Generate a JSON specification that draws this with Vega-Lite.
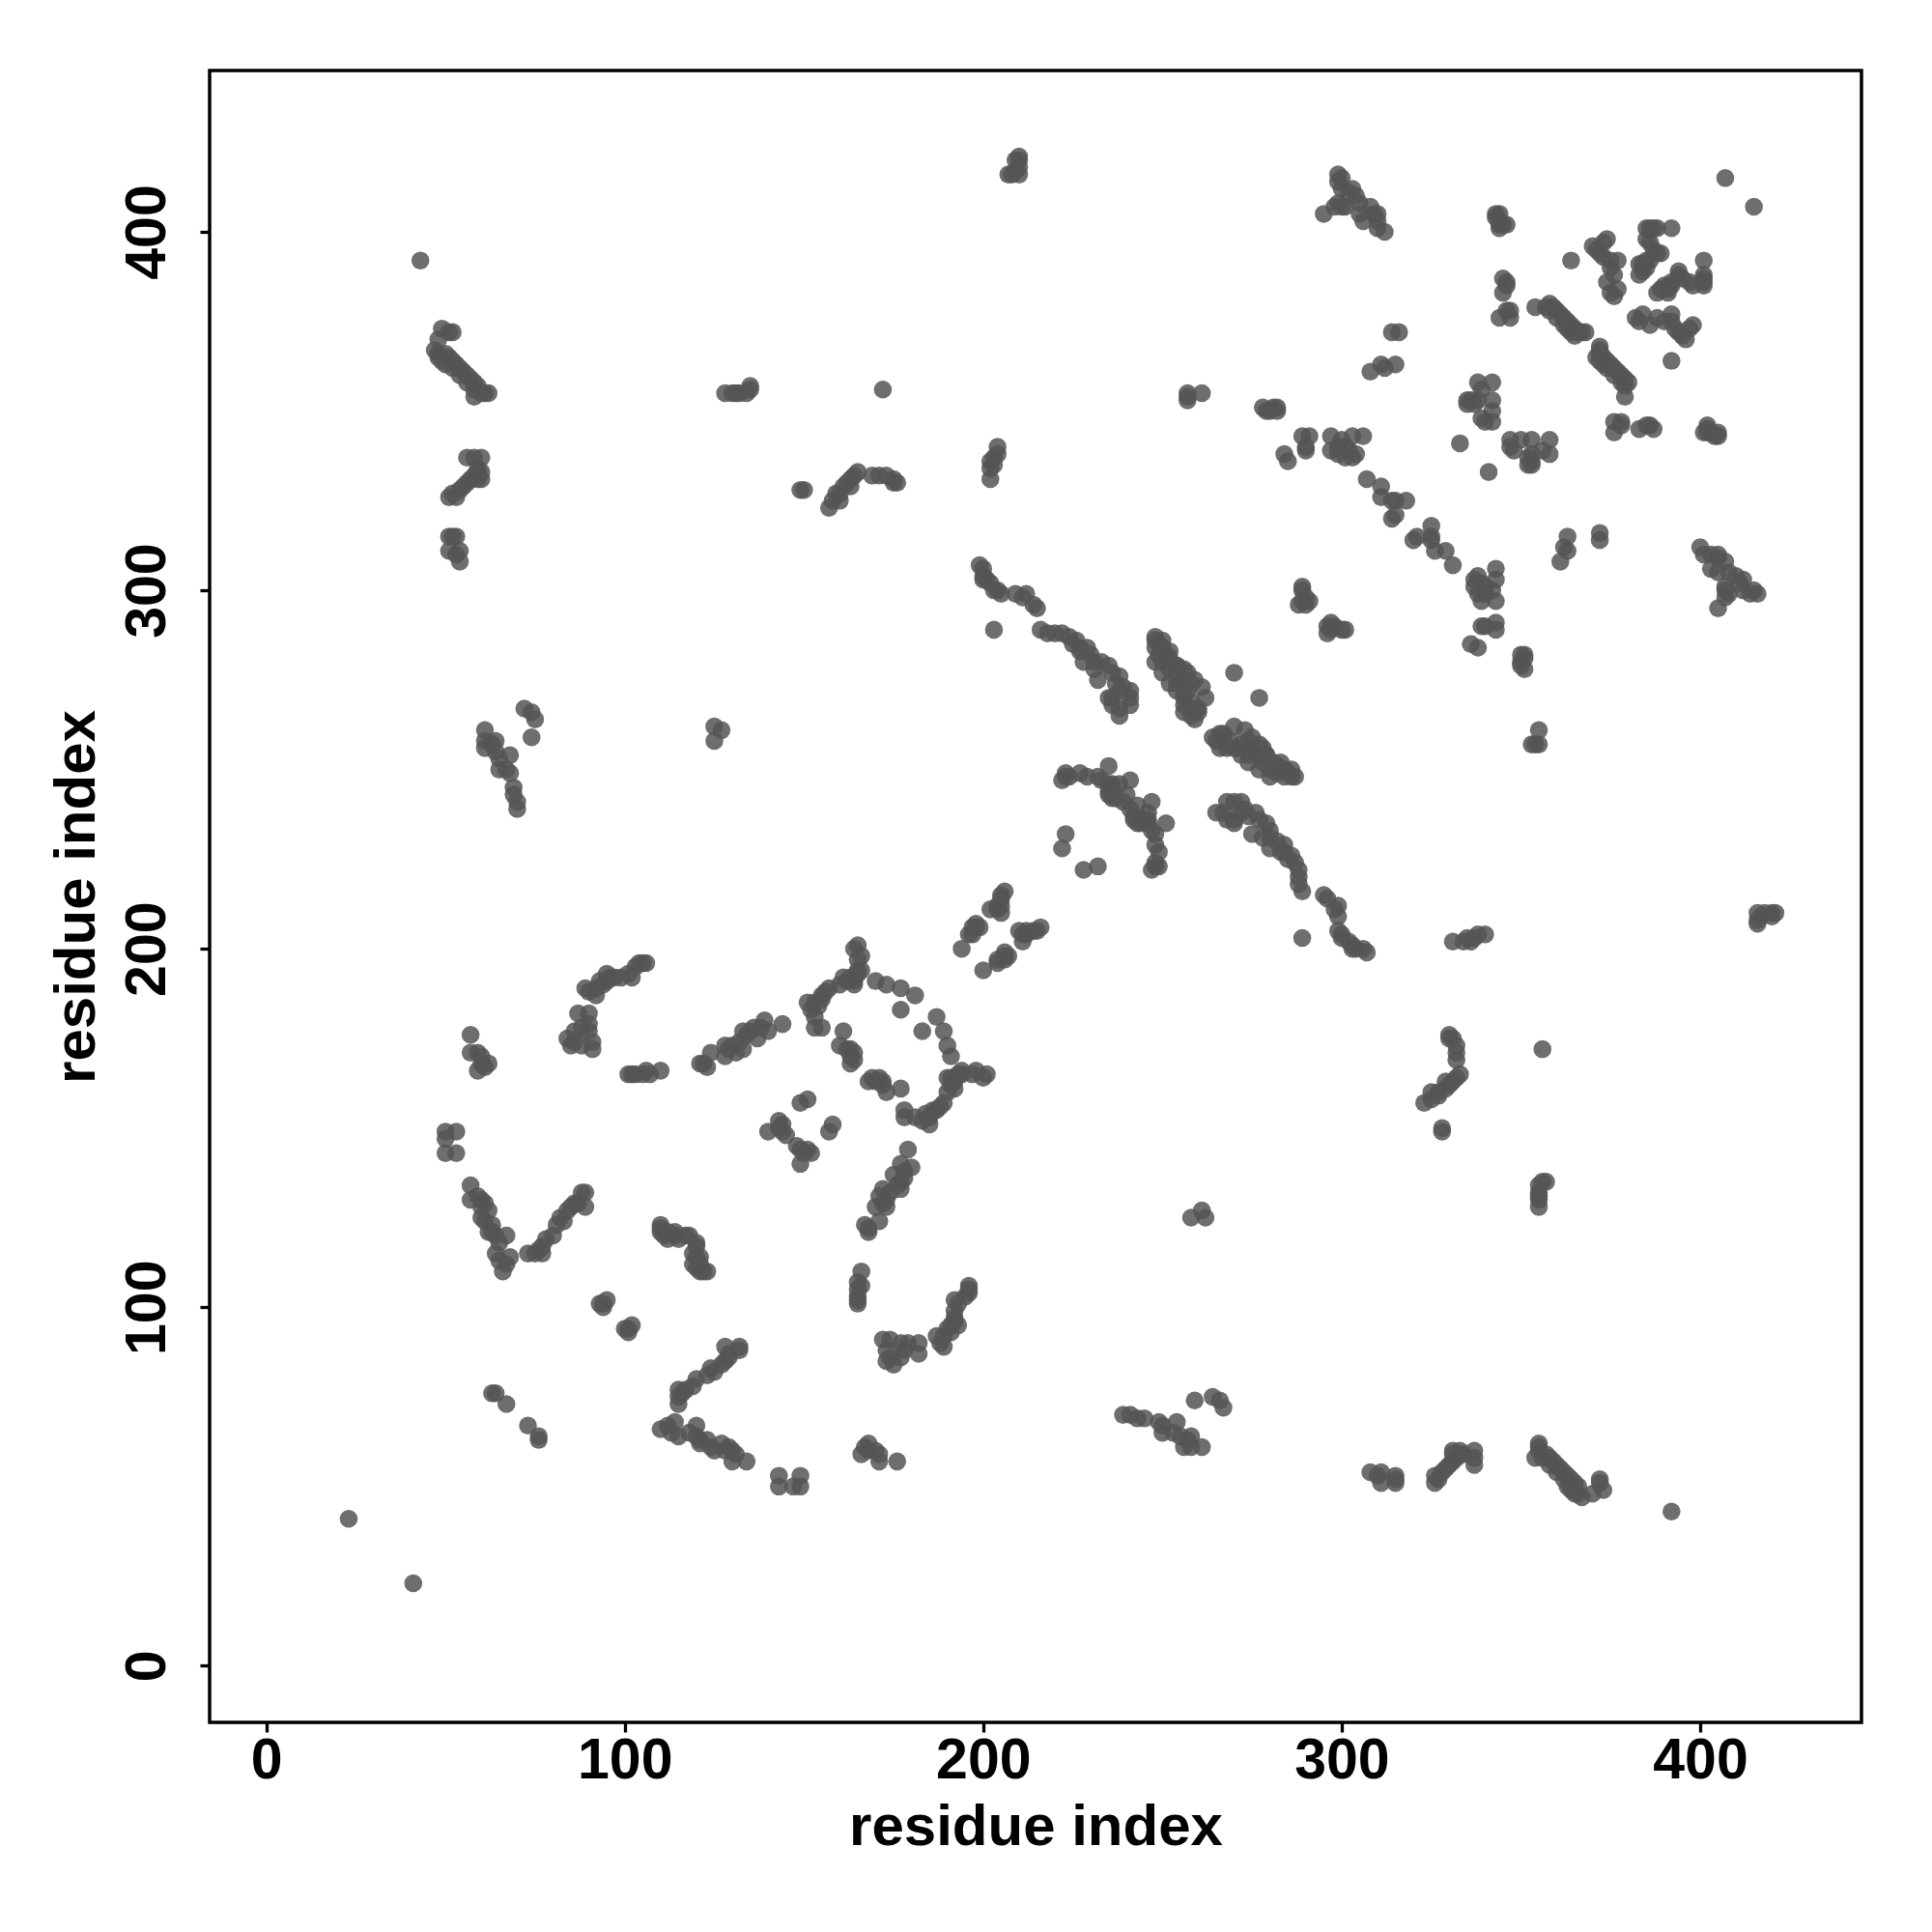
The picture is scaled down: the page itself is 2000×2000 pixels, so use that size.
{"$schema":"https://vega.github.io/schema/vega-lite/v6.json","width":1710,"height":1710,"autosize":{"type":"none"},"padding":{"left":217,"top":73,"right":73,"bottom":217},"background":"white","config":{"view":{"stroke":"black","strokeWidth":3.5},"font":"Liberation Sans"},"data":{"values":[
{"x":23,"y":41},{"x":43,"y":392},{"x":407,"y":415},
{"x":47,"y":367},{"x":48,"y":366},{"x":48,"y":365},{"x":49,"y":364},{"x":50,"y":366},{"x":50,"y":363},{"x":51,"y":365},{"x":52,"y":364},{"x":52,"y":362},{"x":53,"y":363},{"x":54,"y":362},{"x":54,"y":360},{"x":55,"y":361},{"x":56,"y":360},{"x":56,"y":358},{"x":57,"y":359},{"x":58,"y":358},{"x":58,"y":356},{"x":59,"y":357},{"x":60,"y":355},{"x":61,"y":355},{"x":58,"y":354},{"x":62,"y":355},{"x":48,"y":370},{"x":49,"y":373},{"x":51,"y":372},{"x":52,"y":372},
{"x":51,"y":326},{"x":52,"y":327},{"x":53,"y":326},{"x":54,"y":328},{"x":55,"y":329},{"x":56,"y":330},{"x":57,"y":331},{"x":58,"y":332},{"x":59,"y":333},{"x":59,"y":331},{"x":60,"y":333},{"x":60,"y":331},{"x":56,"y":337},{"x":58,"y":337},{"x":60,"y":337},{"x":59,"y":334},
{"x":51,"y":315},{"x":52,"y":315},{"x":53,"y":315},{"x":51,"y":311},{"x":53,"y":310},{"x":54,"y":308},{"x":54,"y":311},
{"x":61,"y":261},{"x":61,"y":258},{"x":61,"y":256},{"x":63,"y":257},{"x":64,"y":258},{"x":64,"y":255},{"x":65,"y":253},{"x":65,"y":250},{"x":67,"y":250},{"x":68,"y":254},{"x":68,"y":249},{"x":69,"y":245},{"x":69,"y":243},{"x":70,"y":241},{"x":70,"y":239},{"x":72,"y":267},{"x":74,"y":266},{"x":75,"y":264},{"x":74,"y":259},
{"x":125,"y":262},{"x":127,"y":261},{"x":125,"y":258},
{"x":128,"y":355},{"x":130,"y":355},{"x":131,"y":355},{"x":132,"y":355},{"x":134,"y":355},{"x":135,"y":356},{"x":135,"y":357},{"x":172,"y":356},
{"x":149,"y":328},{"x":150,"y":328},{"x":157,"y":323},{"x":158,"y":325},{"x":159,"y":327},{"x":160,"y":327},{"x":161,"y":329},{"x":162,"y":330},{"x":163,"y":331},{"x":164,"y":332},{"x":165,"y":333},{"x":163,"y":329},{"x":160,"y":325},{"x":169,"y":332},{"x":171,"y":332},{"x":173,"y":332},{"x":175,"y":331},{"x":176,"y":330},{"x":175,"y":330},
{"x":202,"y":334},{"x":202,"y":336},{"x":203,"y":337},{"x":204,"y":338},{"x":204,"y":340},{"x":202,"y":331},{"x":203,"y":335},
{"x":207,"y":416},{"x":208,"y":416},{"x":209,"y":417},{"x":210,"y":416},{"x":210,"y":418},{"x":210,"y":420},{"x":209,"y":420},{"x":210,"y":421},
{"x":257,"y":355},{"x":257,"y":353},{"x":257,"y":354},{"x":261,"y":355},
{"x":278,"y":351},{"x":279,"y":350},{"x":280,"y":350},{"x":281,"y":351},{"x":282,"y":350},{"x":282,"y":351},
{"x":295,"y":405},{"x":298,"y":407},{"x":299,"y":408},{"x":300,"y":407},{"x":299,"y":414},{"x":299,"y":416},{"x":300,"y":415},{"x":300,"y":412},{"x":302,"y":411},{"x":303,"y":412},{"x":304,"y":410},{"x":305,"y":408},{"x":305,"y":405},{"x":306,"y":403},{"x":308,"y":407},{"x":309,"y":405},{"x":310,"y":403},{"x":310,"y":401},{"x":310,"y":405},{"x":312,"y":400},{"x":301,"y":407},
{"x":344,"y":405},{"x":344,"y":403},{"x":345,"y":402},{"x":346,"y":402},{"x":345,"y":387},{"x":346,"y":385},{"x":345,"y":383},{"x":346,"y":378},{"x":344,"y":376},{"x":347,"y":376},{"x":347,"y":378},{"x":346,"y":386},{"x":344,"y":401},{"x":344,"y":402},{"x":343,"y":404},{"x":343,"y":405},
{"x":364,"y":392},{"x":370,"y":396},{"x":371,"y":395},{"x":372,"y":394},{"x":373,"y":397},{"x":374,"y":398},{"x":373,"y":393},{"x":375,"y":392},{"x":375,"y":390},{"x":376,"y":388},{"x":374,"y":386},{"x":375,"y":383},{"x":376,"y":382},{"x":377,"y":384},{"x":377,"y":392},
{"x":385,"y":401},{"x":386,"y":401},{"x":387,"y":401},{"x":388,"y":401},{"x":385,"y":398},{"x":386,"y":397},{"x":387,"y":395},{"x":386,"y":392},{"x":385,"y":392},{"x":384,"y":391},{"x":383,"y":391},{"x":388,"y":394},{"x":389,"y":394},{"x":392,"y":401},{"x":383,"y":388},{"x":384,"y":389},{"x":385,"y":390},
{"x":354,"y":379},{"x":357,"y":379},{"x":358,"y":380},{"x":359,"y":379},{"x":360,"y":378},{"x":361,"y":377},{"x":362,"y":376},{"x":363,"y":375},{"x":364,"y":374},{"x":365,"y":373},{"x":366,"y":372},{"x":367,"y":372},{"x":368,"y":372},{"x":365,"y":371},{"x":364,"y":372},{"x":363,"y":373},{"x":362,"y":374},{"x":360,"y":376},{"x":358,"y":378},
{"x":284,"y":338},{"x":285,"y":336},{"x":289,"y":343},{"x":290,"y":340},{"x":291,"y":343},{"x":290,"y":339},{"x":297,"y":343},{"x":300,"y":342},{"x":303,"y":343},{"x":306,"y":343},{"x":297,"y":339},{"x":299,"y":340},{"x":299,"y":338},{"x":301,"y":340},{"x":302,"y":339},{"x":303,"y":337},{"x":304,"y":338},{"x":301,"y":337},
{"x":307,"y":331},{"x":311,"y":329},{"x":311,"y":326},{"x":314,"y":325},{"x":315,"y":325},{"x":318,"y":325},{"x":314,"y":320},{"x":315,"y":321},
{"x":333,"y":341},{"x":335,"y":353},{"x":336,"y":353},{"x":337,"y":352},{"x":338,"y":358},{"x":339,"y":356},{"x":342,"y":358},{"x":342,"y":353},{"x":342,"y":350},{"x":339,"y":348},{"x":340,"y":347},{"x":342,"y":347},{"x":338,"y":353},{"x":335,"y":352},
{"x":314,"y":372},{"x":316,"y":372},{"x":308,"y":361},{"x":311,"y":363},{"x":312,"y":362},{"x":315,"y":363},
{"x":289,"y":300},{"x":288,"y":296},{"x":289,"y":297},{"x":290,"y":296},{"x":291,"y":297},{"x":289,"y":301},{"x":290,"y":298},
{"x":200,"y":306},{"x":200,"y":304},{"x":201,"y":303},{"x":202,"y":302},{"x":204,"y":300},{"x":205,"y":299},{"x":203,"y":289},{"x":209,"y":299},{"x":211,"y":298},{"x":212,"y":299},{"x":214,"y":296},{"x":215,"y":295},{"x":216,"y":289},{"x":218,"y":288},{"x":220,"y":288},{"x":222,"y":288},{"x":224,"y":287},{"x":226,"y":286},{"x":227,"y":284},{"x":229,"y":284},{"x":230,"y":282},{"x":231,"y":280},{"x":233,"y":280},{"x":235,"y":279},{"x":236,"y":277},{"x":238,"y":276},{"x":239,"y":273},{"x":241,"y":272},{"x":241,"y":270},{"x":241,"y":268},{"x":236,"y":270},
{"x":199,"y":307},{"x":200,"y":303},{"x":203,"y":300},{"x":238,"y":265},{"x":238,"y":267},{"x":236,"y":268},{"x":235,"y":270},{"x":238,"y":272},{"x":237,"y":274},{"x":225,"y":285},{"x":227,"y":283},{"x":228,"y":280},{"x":231,"y":278},{"x":232,"y":275},
{"x":248,"y":284},{"x":249,"y":282},{"x":250,"y":284},{"x":252,"y":281},{"x":254,"y":279},{"x":256,"y":278},{"x":257,"y":277},{"x":258,"y":274},{"x":248,"y":280},{"x":250,"y":277},{"x":252,"y":274},{"x":254,"y":272},{"x":256,"y":270},{"x":258,"y":269},{"x":260,"y":267},{"x":261,"y":273},{"x":262,"y":270},{"x":256,"y":266},{"x":260,"y":266},{"x":259,"y":264},{"x":270,"y":277},{"x":258,"y":265},{"x":259,"y":267},{"x":256,"y":268},{"x":257,"y":272},{"x":255,"y":274},{"x":259,"y":275},{"x":256,"y":275},{"x":254,"y":277},{"x":252,"y":278},{"x":254,"y":279},{"x":250,"y":280},{"x":251,"y":282},{"x":252,"y":283},{"x":250,"y":284},{"x":249,"y":285},{"x":248,"y":286},{"x":248,"y":287},{"x":250,"y":286},{"x":254,"y":274},{"x":256,"y":271},
{"x":222,"y":247},{"x":223,"y":248},{"x":224,"y":248},{"x":229,"y":248},{"x":232,"y":248},{"x":233,"y":247},{"x":235,"y":246},{"x":235,"y":251},{"x":235,"y":243},{"x":236,"y":245},{"x":237,"y":242},{"x":238,"y":246},{"x":239,"y":241},{"x":240,"y":243},{"x":241,"y":247},{"x":236,"y":242},{"x":235,"y":244},{"x":236,"y":246},{"x":223,"y":232},{"x":222,"y":228},{"x":223,"y":249},{"x":227,"y":249},
{"x":50,"y":149},{"x":53,"y":149},{"x":50,"y":143},{"x":53,"y":143},{"x":50,"y":147},
{"x":57,"y":134},{"x":57,"y":130},{"x":59,"y":131},{"x":60,"y":130},{"x":61,"y":129},{"x":60,"y":128},{"x":60,"y":125},{"x":61,"y":124},{"x":62,"y":127},{"x":63,"y":123},{"x":63,"y":121},{"x":64,"y":120},{"x":65,"y":118},{"x":67,"y":120},{"x":62,"y":121},{"x":64,"y":115},{"x":65,"y":113},{"x":66,"y":110},{"x":67,"y":112},{"x":68,"y":114},
{"x":73,"y":115},{"x":75,"y":115},{"x":76,"y":116},{"x":77,"y":115},{"x":77,"y":117},{"x":78,"y":119},{"x":80,"y":120},{"x":81,"y":123},{"x":82,"y":125},{"x":83,"y":124},{"x":84,"y":127},{"x":85,"y":128},{"x":86,"y":129},{"x":88,"y":132},{"x":87,"y":129},{"x":89,"y":132},{"x":89,"y":128},
{"x":57,"y":176},{"x":57,"y":171},{"x":59,"y":171},{"x":60,"y":170},{"x":60,"y":168},{"x":61,"y":167},{"x":62,"y":168},{"x":59,"y":166},
{"x":84,"y":175},{"x":85,"y":173},{"x":86,"y":174},{"x":86,"y":177},{"x":87,"y":182},{"x":88,"y":178},{"x":88,"y":173},{"x":90,"y":182},{"x":90,"y":177},{"x":91,"y":174},{"x":91,"y":172},{"x":90,"y":179},
{"x":89,"y":189},{"x":90,"y":188},{"x":92,"y":189},{"x":92,"y":187},{"x":93,"y":191},{"x":94,"y":190},{"x":95,"y":193},{"x":96,"y":192},{"x":95,"y":191},{"x":97,"y":192},{"x":99,"y":192},{"x":101,"y":193},{"x":102,"y":192},{"x":103,"y":195},{"x":104,"y":196},{"x":105,"y":196},{"x":106,"y":196},
{"x":101,"y":165},{"x":102,"y":165},{"x":103,"y":165},{"x":105,"y":165},{"x":106,"y":166},{"x":107,"y":165},{"x":110,"y":166},
{"x":121,"y":168},{"x":122,"y":168},{"x":123,"y":167},{"x":124,"y":171},{"x":128,"y":173},{"x":128,"y":170},{"x":130,"y":173},{"x":131,"y":171},{"x":132,"y":174},{"x":133,"y":172},{"x":133,"y":177},{"x":134,"y":176},{"x":135,"y":177},{"x":136,"y":178},{"x":137,"y":175},{"x":138,"y":178},{"x":139,"y":180},{"x":140,"y":177},{"x":144,"y":179},{"x":129,"y":172},
{"x":151,"y":185},{"x":152,"y":183},{"x":153,"y":181},{"x":153,"y":185},{"x":154,"y":184},{"x":155,"y":187},{"x":155,"y":186},{"x":153,"y":178},{"x":155,"y":178},{"x":156,"y":188},{"x":157,"y":189},{"x":160,"y":190},{"x":161,"y":192},{"x":162,"y":191},{"x":163,"y":192},{"x":164,"y":191},{"x":164,"y":190},{"x":165,"y":193},{"x":165,"y":194},{"x":166,"y":194},{"x":165,"y":197},{"x":164,"y":200},{"x":165,"y":201},{"x":166,"y":198},
{"x":170,"y":191},{"x":173,"y":190},{"x":177,"y":189},{"x":181,"y":187},{"x":177,"y":183},{"x":161,"y":177},{"x":162,"y":172},{"x":163,"y":172},{"x":164,"y":171},{"x":164,"y":169},{"x":163,"y":168},{"x":163,"y":170},{"x":160,"y":173},
{"x":140,"y":149},{"x":143,"y":150},{"x":144,"y":151},{"x":144,"y":149},{"x":145,"y":148},{"x":143,"y":152},{"x":149,"y":157},{"x":151,"y":158},
{"x":110,"y":122},{"x":111,"y":120},{"x":112,"y":119},{"x":114,"y":120},{"x":115,"y":119},{"x":117,"y":120},{"x":118,"y":120},{"x":110,"y":121},{"x":114,"y":121},{"x":112,"y":121},{"x":110,"y":123},
{"x":93,"y":101},{"x":94,"y":101},{"x":95,"y":102},{"x":94,"y":100},{"x":63,"y":76},{"x":64,"y":76},{"x":67,"y":73},
{"x":194,"y":200},{"x":196,"y":204},{"x":197,"y":206},{"x":198,"y":207},{"x":199,"y":206},{"x":197,"y":204},{"x":198,"y":206},{"x":205,"y":212},{"x":205,"y":214},{"x":204,"y":211},{"x":206,"y":216},{"x":205,"y":210},{"x":202,"y":211},{"x":205,"y":215},{"x":204,"y":212},
{"y":23,"x":41},{"y":43,"x":392},{"y":407,"x":415},
{"y":47,"x":367},{"y":48,"x":366},{"y":48,"x":365},{"y":49,"x":364},{"y":50,"x":366},{"y":50,"x":363},{"y":51,"x":365},{"y":52,"x":364},{"y":52,"x":362},{"y":53,"x":363},{"y":54,"x":362},{"y":54,"x":360},{"y":55,"x":361},{"y":56,"x":360},{"y":56,"x":358},{"y":57,"x":359},{"y":58,"x":358},{"y":58,"x":356},{"y":59,"x":357},{"y":60,"x":355},{"y":61,"x":355},{"y":58,"x":354},{"y":62,"x":355},{"y":48,"x":370},{"y":49,"x":373},{"y":51,"x":372},{"y":52,"x":372},
{"y":51,"x":326},{"y":52,"x":327},{"y":53,"x":326},{"y":54,"x":328},{"y":55,"x":329},{"y":56,"x":330},{"y":57,"x":331},{"y":58,"x":332},{"y":59,"x":333},{"y":59,"x":331},{"y":60,"x":333},{"y":60,"x":331},{"y":56,"x":337},{"y":58,"x":337},{"y":60,"x":337},{"y":59,"x":334},
{"y":51,"x":315},{"y":52,"x":315},{"y":53,"x":315},{"y":51,"x":311},{"y":53,"x":310},{"y":54,"x":308},{"y":54,"x":311},
{"y":61,"x":261},{"y":61,"x":258},{"y":61,"x":256},{"y":63,"x":257},{"y":64,"x":258},{"y":64,"x":255},{"y":65,"x":253},{"y":65,"x":250},{"y":67,"x":250},{"y":68,"x":254},{"y":68,"x":249},{"y":69,"x":245},{"y":69,"x":243},{"y":70,"x":241},{"y":70,"x":239},{"y":72,"x":267},{"y":74,"x":266},{"y":75,"x":264},{"y":74,"x":259},
{"y":125,"x":262},{"y":127,"x":261},{"y":125,"x":258},
{"y":128,"x":355},{"y":130,"x":355},{"y":131,"x":355},{"y":132,"x":355},{"y":134,"x":355},{"y":135,"x":356},{"y":135,"x":357},{"y":172,"x":356},
{"y":149,"x":328},{"y":150,"x":328},{"y":157,"x":323},{"y":158,"x":325},{"y":159,"x":327},{"y":160,"x":327},{"y":161,"x":329},{"y":162,"x":330},{"y":163,"x":331},{"y":164,"x":332},{"y":165,"x":333},{"y":163,"x":329},{"y":160,"x":325},{"y":169,"x":332},{"y":171,"x":332},{"y":173,"x":332},{"y":175,"x":331},{"y":176,"x":330},{"y":175,"x":330},
{"y":202,"x":334},{"y":202,"x":336},{"y":203,"x":337},{"y":204,"x":338},{"y":204,"x":340},{"y":202,"x":331},{"y":203,"x":335},
{"y":207,"x":416},{"y":208,"x":416},{"y":209,"x":417},{"y":210,"x":416},{"y":210,"x":418},{"y":210,"x":420},{"y":209,"x":420},{"y":210,"x":421},
{"y":257,"x":355},{"y":257,"x":353},{"y":257,"x":354},{"y":261,"x":355},
{"y":278,"x":351},{"y":279,"x":350},{"y":280,"x":350},{"y":281,"x":351},{"y":282,"x":350},{"y":282,"x":351},
{"y":295,"x":405},{"y":298,"x":407},{"y":299,"x":408},{"y":300,"x":407},{"y":299,"x":414},{"y":299,"x":416},{"y":300,"x":415},{"y":300,"x":412},{"y":302,"x":411},{"y":303,"x":412},{"y":304,"x":410},{"y":305,"x":408},{"y":305,"x":405},{"y":306,"x":403},{"y":308,"x":407},{"y":309,"x":405},{"y":310,"x":403},{"y":310,"x":401},{"y":310,"x":405},{"y":312,"x":400},{"y":301,"x":407},
{"y":344,"x":405},{"y":344,"x":403},{"y":345,"x":402},{"y":346,"x":402},{"y":345,"x":387},{"y":346,"x":385},{"y":345,"x":383},{"y":346,"x":378},{"y":344,"x":376},{"y":347,"x":376},{"y":347,"x":378},{"y":346,"x":386},{"y":344,"x":401},{"y":344,"x":402},{"y":343,"x":404},{"y":343,"x":405},
{"y":364,"x":392},{"y":370,"x":396},{"y":371,"x":395},{"y":372,"x":394},{"y":373,"x":397},{"y":374,"x":398},{"y":373,"x":393},{"y":375,"x":392},{"y":375,"x":390},{"y":376,"x":388},{"y":374,"x":386},{"y":375,"x":383},{"y":376,"x":382},{"y":377,"x":384},{"y":377,"x":392},
{"y":385,"x":401},{"y":386,"x":401},{"y":387,"x":401},{"y":388,"x":401},{"y":385,"x":398},{"y":386,"x":397},{"y":387,"x":395},{"y":386,"x":392},{"y":385,"x":392},{"y":384,"x":391},{"y":383,"x":391},{"y":388,"x":394},{"y":389,"x":394},{"y":392,"x":401},{"y":383,"x":388},{"y":384,"x":389},{"y":385,"x":390},
{"y":354,"x":379},{"y":357,"x":379},{"y":358,"x":380},{"y":359,"x":379},{"y":360,"x":378},{"y":361,"x":377},{"y":362,"x":376},{"y":363,"x":375},{"y":364,"x":374},{"y":365,"x":373},{"y":366,"x":372},{"y":367,"x":372},{"y":368,"x":372},{"y":365,"x":371},{"y":364,"x":372},{"y":363,"x":373},{"y":362,"x":374},{"y":360,"x":376},{"y":358,"x":378},
{"y":284,"x":338},{"y":285,"x":336},{"y":289,"x":343},{"y":290,"x":340},{"y":291,"x":343},{"y":290,"x":339},{"y":297,"x":343},{"y":300,"x":342},{"y":303,"x":343},{"y":306,"x":343},{"y":297,"x":339},{"y":299,"x":340},{"y":299,"x":338},{"y":301,"x":340},{"y":302,"x":339},{"y":303,"x":337},{"y":304,"x":338},{"y":301,"x":337},
{"y":307,"x":331},{"y":311,"x":329},{"y":311,"x":326},{"y":314,"x":325},{"y":315,"x":325},{"y":318,"x":325},{"y":314,"x":320},{"y":315,"x":321},
{"y":333,"x":341},{"y":335,"x":353},{"y":336,"x":353},{"y":337,"x":352},{"y":338,"x":358},{"y":339,"x":356},{"y":342,"x":358},{"y":342,"x":353},{"y":342,"x":350},{"y":339,"x":348},{"y":340,"x":347},{"y":342,"x":347},{"y":338,"x":353},{"y":335,"x":352},
{"y":314,"x":372},{"y":316,"x":372},{"y":308,"x":361},{"y":311,"x":363},{"y":312,"x":362},{"y":315,"x":363},
{"y":289,"x":300},{"y":288,"x":296},{"y":289,"x":297},{"y":290,"x":296},{"y":291,"x":297},{"y":289,"x":301},{"y":290,"x":298},
{"y":200,"x":306},{"y":200,"x":304},{"y":201,"x":303},{"y":202,"x":302},{"y":204,"x":300},{"y":205,"x":299},{"y":203,"x":289},{"y":209,"x":299},{"y":211,"x":298},{"y":212,"x":299},{"y":214,"x":296},{"y":215,"x":295},{"y":216,"x":289},{"y":218,"x":288},{"y":220,"x":288},{"y":222,"x":288},{"y":224,"x":287},{"y":226,"x":286},{"y":227,"x":284},{"y":229,"x":284},{"y":230,"x":282},{"y":231,"x":280},{"y":233,"x":280},{"y":235,"x":279},{"y":236,"x":277},{"y":238,"x":276},{"y":239,"x":273},{"y":241,"x":272},{"y":241,"x":270},{"y":241,"x":268},{"y":236,"x":270},
{"y":199,"x":307},{"y":200,"x":303},{"y":203,"x":300},{"y":238,"x":265},{"y":238,"x":267},{"y":236,"x":268},{"y":235,"x":270},{"y":238,"x":272},{"y":237,"x":274},{"y":225,"x":285},{"y":227,"x":283},{"y":228,"x":280},{"y":231,"x":278},{"y":232,"x":275},
{"y":248,"x":284},{"y":249,"x":282},{"y":250,"x":284},{"y":252,"x":281},{"y":254,"x":279},{"y":256,"x":278},{"y":257,"x":277},{"y":258,"x":274},{"y":248,"x":280},{"y":250,"x":277},{"y":252,"x":274},{"y":254,"x":272},{"y":256,"x":270},{"y":258,"x":269},{"y":260,"x":267},{"y":261,"x":273},{"y":262,"x":270},{"y":256,"x":266},{"y":260,"x":266},{"y":259,"x":264},{"y":270,"x":277},{"y":258,"x":265},{"y":259,"x":267},{"y":256,"x":268},{"y":257,"x":272},{"y":255,"x":274},{"y":259,"x":275},{"y":256,"x":275},{"y":254,"x":277},{"y":252,"x":278},{"y":254,"x":279},{"y":250,"x":280},{"y":251,"x":282},{"y":252,"x":283},{"y":250,"x":284},{"y":249,"x":285},{"y":248,"x":286},{"y":248,"x":287},{"y":250,"x":286},{"y":254,"x":274},{"y":256,"x":271},
{"y":222,"x":247},{"y":223,"x":248},{"y":224,"x":248},{"y":229,"x":248},{"y":232,"x":248},{"y":233,"x":247},{"y":235,"x":246},{"y":235,"x":251},{"y":235,"x":243},{"y":236,"x":245},{"y":237,"x":242},{"y":238,"x":246},{"y":239,"x":241},{"y":240,"x":243},{"y":241,"x":247},{"y":236,"x":242},{"y":235,"x":244},{"y":236,"x":246},{"y":223,"x":232},{"y":222,"x":228},{"y":223,"x":249},{"y":227,"x":249},
{"y":50,"x":149},{"y":53,"x":149},{"y":50,"x":143},{"y":53,"x":143},{"y":50,"x":147},
{"y":57,"x":134},{"y":57,"x":130},{"y":59,"x":131},{"y":60,"x":130},{"y":61,"x":129},{"y":60,"x":128},{"y":60,"x":125},{"y":61,"x":124},{"y":62,"x":127},{"y":63,"x":123},{"y":63,"x":121},{"y":64,"x":120},{"y":65,"x":118},{"y":67,"x":120},{"y":62,"x":121},{"y":64,"x":115},{"y":65,"x":113},{"y":66,"x":110},{"y":67,"x":112},{"y":68,"x":114},
{"y":73,"x":115},{"y":75,"x":115},{"y":76,"x":116},{"y":77,"x":115},{"y":77,"x":117},{"y":78,"x":119},{"y":80,"x":120},{"y":81,"x":123},{"y":82,"x":125},{"y":83,"x":124},{"y":84,"x":127},{"y":85,"x":128},{"y":86,"x":129},{"y":88,"x":132},{"y":87,"x":129},{"y":89,"x":132},{"y":89,"x":128},
{"y":57,"x":176},{"y":57,"x":171},{"y":59,"x":171},{"y":60,"x":170},{"y":60,"x":168},{"y":61,"x":167},{"y":62,"x":168},{"y":59,"x":166},
{"y":84,"x":175},{"y":85,"x":173},{"y":86,"x":174},{"y":86,"x":177},{"y":87,"x":182},{"y":88,"x":178},{"y":88,"x":173},{"y":90,"x":182},{"y":90,"x":177},{"y":91,"x":174},{"y":91,"x":172},{"y":90,"x":179},
{"y":89,"x":189},{"y":90,"x":188},{"y":92,"x":189},{"y":92,"x":187},{"y":93,"x":191},{"y":94,"x":190},{"y":95,"x":193},{"y":96,"x":192},{"y":95,"x":191},{"y":97,"x":192},{"y":99,"x":192},{"y":101,"x":193},{"y":102,"x":192},{"y":103,"x":195},{"y":104,"x":196},{"y":105,"x":196},{"y":106,"x":196},
{"y":101,"x":165},{"y":102,"x":165},{"y":103,"x":165},{"y":105,"x":165},{"y":106,"x":166},{"y":107,"x":165},{"y":110,"x":166},
{"y":121,"x":168},{"y":122,"x":168},{"y":123,"x":167},{"y":124,"x":171},{"y":128,"x":173},{"y":128,"x":170},{"y":130,"x":173},{"y":131,"x":171},{"y":132,"x":174},{"y":133,"x":172},{"y":133,"x":177},{"y":134,"x":176},{"y":135,"x":177},{"y":136,"x":178},{"y":137,"x":175},{"y":138,"x":178},{"y":139,"x":180},{"y":140,"x":177},{"y":144,"x":179},{"y":129,"x":172},
{"y":151,"x":185},{"y":152,"x":183},{"y":153,"x":181},{"y":153,"x":185},{"y":154,"x":184},{"y":155,"x":187},{"y":155,"x":186},{"y":153,"x":178},{"y":155,"x":178},{"y":156,"x":188},{"y":157,"x":189},{"y":160,"x":190},{"y":161,"x":192},{"y":162,"x":191},{"y":163,"x":192},{"y":164,"x":191},{"y":164,"x":190},{"y":165,"x":193},{"y":165,"x":194},{"y":166,"x":194},{"y":165,"x":197},{"y":164,"x":200},{"y":165,"x":201},{"y":166,"x":198},
{"y":170,"x":191},{"y":173,"x":190},{"y":177,"x":189},{"y":181,"x":187},{"y":177,"x":183},{"y":161,"x":177},{"y":162,"x":172},{"y":163,"x":172},{"y":164,"x":171},{"y":164,"x":169},{"y":163,"x":168},{"y":163,"x":170},{"y":160,"x":173},
{"y":140,"x":149},{"y":143,"x":150},{"y":144,"x":151},{"y":144,"x":149},{"y":145,"x":148},{"y":143,"x":152},{"y":149,"x":157},{"y":151,"x":158},
{"y":110,"x":122},{"y":111,"x":120},{"y":112,"x":119},{"y":114,"x":120},{"y":115,"x":119},{"y":117,"x":120},{"y":118,"x":120},{"y":110,"x":121},{"y":114,"x":121},{"y":112,"x":121},{"y":110,"x":123},
{"y":93,"x":101},{"y":94,"x":101},{"y":95,"x":102},{"y":94,"x":100},{"y":63,"x":76},{"y":64,"x":76},{"y":67,"x":73},
{"y":194,"x":200},{"y":196,"x":204},{"y":197,"x":206},{"y":198,"x":207},{"y":199,"x":206},{"y":197,"x":204},{"y":198,"x":206},{"y":205,"x":212},{"y":205,"x":214},{"y":204,"x":211},{"y":206,"x":216},{"y":205,"x":210},{"y":202,"x":211},{"y":205,"x":215},{"y":204,"x":212}
]},
"mark":{"type":"point","shape":"circle","filled":true,"size":345,"color":"#555555","opacity":0.85,"clip":true},
"encoding":{
"x":{"field":"x","type":"quantitative","scale":{"domain":[-15.8,445],"nice":false,"zero":false},"axis":{"values":[0,100,200,300,400],"grid":false,"domain":false,"tickColor":"black","tickWidth":3.3,"tickSize":10,"labelFont":"Liberation Sans","labelFontWeight":"bold","labelFontSize":59,"labelColor":"black","labelPadding":0,"labelFlush":false,"title":"residue index","titleFont":"Liberation Sans","titleFontWeight":"bold","titleFontSize":60,"titleColor":"black","titlePadding":10}},
"y":{"field":"y","type":"quantitative","scale":{"domain":[-15.8,445],"nice":false,"zero":false},"axis":{"values":[0,100,200,300,400],"grid":false,"domain":false,"tickColor":"black","tickWidth":3.3,"tickSize":10,"labelFont":"Liberation Sans","labelFontWeight":"bold","labelFontSize":59,"labelColor":"black","labelAngle":270,"labelAlign":"center","labelBaseline":"bottom","labelPadding":25,"labelFlush":false,"title":"residue index","titleFont":"Liberation Sans","titleFontWeight":"bold","titleFontSize":60,"titleColor":"black","titlePadding":13}}
}}
